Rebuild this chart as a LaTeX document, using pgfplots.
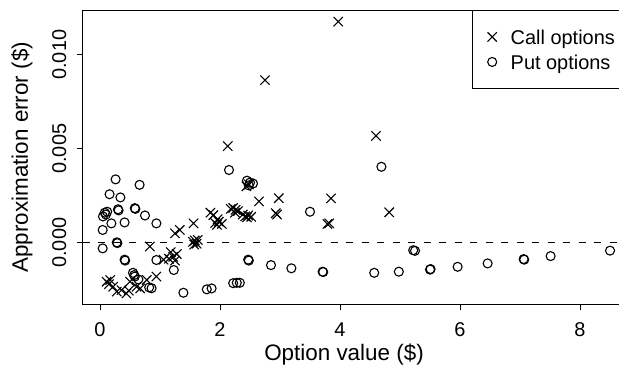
\documentclass[border=0pt]{standalone}
\usepackage{pgfplots}
\pgfplotsset{compat=1.18}
\usepackage{fontspec}
\setmainfont{Liberation Sans}
\begin{document}
\begin{tikzpicture}
\useasboundingbox (-82.7bp,-62.6bp) rectangle (536.3bp,304.4bp);
\begin{axis}[
  at={(0,0)}, anchor=south west,
  scale only axis, width=547.6bp, height=294.4bp,
  xmin=-0.288, xmax=8.838, ymin=-0.00328, ymax=0.01238,
  scaled ticks=false,
  axis line style={line width=0.9bp},
  tick style={line width=0.9bp, black},
  tick align=outside, major tick length=6bp,
  xtick pos=bottom, ytick pos=left,
  xtick={0,2,4,6,8}, xticklabels={0,2,4,6,8},
  ytick={0,0.005,0.01}, yticklabels={0.000,0.005,0.010},
  minor tick num=0,
  ticklabel style={font=\fontsize{20}{24}\selectfont},
  xticklabel style={anchor=center, yshift=-19bp, text depth=0pt},
  yticklabel style={anchor=center, xshift=-17.5bp, rotate=90, text depth=0pt},
  xlabel={Option value (\$)},
  ylabel={Approximation error (\$)},
  xlabel style={at={(axis description cs:0.4772,-0.1719)}, anchor=center, font=\fontsize{22.5}{27}\selectfont},
  ylabel style={at={(axis description cs:-0.1108,0.5)}, anchor=center, font=\fontsize{22.5}{27}\selectfont},
  legend style={at={(1,1)}, anchor=north east, draw=black, line width=0.9bp, fill=white,
    font=\fontsize{20}{24}\selectfont, inner xsep=15bp, inner ysep=14bp, row sep=0pt,
    nodes={inner xsep=0pt, inner ysep=3bp, text height=16.7bp, text depth=2.3bp}},
  legend cell align=left,
  legend image code/.code={\path (-4bp,0bp) (18bp,0bp); \draw[#1] plot coordinates {(0bp,0bp)};},
]
\addplot[black, line width=0.9bp, dash pattern=on 7bp off 8.5bp, forget plot] coordinates {(-0.288,0) (8.838,0)};
\addplot[only marks, mark=x, mark size=6.6bp, black, line width=1.1bp] coordinates {
(3.97,0.01176) (2.75,0.00865) (2.13,0.00514) (4.60,0.00568) (4.82,0.00162)
(3.85,0.00236) (3.82,0.00103) (3.79,0.00100)
(2.98,0.00237) (2.93,0.00157) (2.95,0.00150) (2.65,0.00220)
(2.38,0.00150) (2.42,0.00140) (2.45,0.00135) (2.47,0.00145) (2.52,0.00138)
(2.18,0.00180) (2.22,0.00185) (2.26,0.00175) (2.30,0.00168) (2.25,0.00160)
(2.44,0.00300) (2.48,0.00310)
(1.89,0.00147) (1.84,0.00160)
(1.92,0.00105) (1.95,0.00095) (1.98,0.00112) (2.03,0.00100) (1.96,0.00125)
(1.56,0.00103)
(1.55,0.00005) (1.58,0.00012) (1.61,-0.00005) (1.63,0.00015) (1.57,-0.00010)
(1.33,0.00068) (1.25,0.00050)
(0.83,-0.00020)
(1.18,-0.00050) (1.22,-0.00075) (1.25,-0.00095) (1.28,-0.00060) (1.15,-0.00085) (1.06,-0.00090)
(0.94,-0.00180) (0.78,-0.00198) (0.61,-0.00234) (0.67,-0.00243)
(0.11,-0.00207) (0.17,-0.00198) (0.22,-0.00234) (0.15,-0.00220)
(0.28,-0.00260) (0.36,-0.00252) (0.44,-0.00270) (0.50,-0.00207) (0.48,-0.00255)
};
\addlegendentry{Call options}
\addplot[only marks, mark=o, mark size=4.5bp, black, line width=1.1bp] coordinates {
(0.26,0.00337) (0.66,0.00308) (0.16,0.00258) (0.34,0.00241)
(0.05,0.00140) (0.08,0.00160) (0.12,0.00165) (0.10,0.00150)
(0.30,0.00178) (0.31,0.00172) (0.58,0.00184) (0.59,0.00180)
(0.75,0.00145) (0.41,0.00108) (0.19,0.00103) (0.045,0.00068) (0.94,0.00103)
(0.28,0.00002) (0.29,-0.00002) (0.045,-0.00030)
(0.41,-0.00090) (0.42,-0.00095) (0.94,-0.00092)
(0.55,-0.00160) (0.57,-0.00172) (0.58,-0.00180) (0.64,-0.00195)
(0.82,-0.00238) (0.86,-0.00242)
(1.23,-0.00145) (1.39,-0.00266) (1.78,-0.00248) (1.86,-0.00243)
(2.22,-0.00215) (2.28,-0.00213) (2.33,-0.00213)
(2.47,-0.00090) (2.48,-0.00095)
(2.85,-0.00119) (3.19,-0.00136) (3.50,0.00165)
(2.15,0.00387) (4.69,0.00404)
(2.45,0.00330) (2.50,0.00320) (2.55,0.00315) (2.48,0.00305)
(3.71,-0.00154) (3.72,-0.00156) (4.57,-0.00160) (4.98,-0.00154)
(5.22,-0.00040) (5.25,-0.00043) (5.50,-0.00143) (5.51,-0.00140)
(5.96,-0.00128) (6.46,-0.00110) (7.06,-0.00087) (7.07,-0.00090)
(7.51,-0.00071) (8.50,-0.00042)
};
\addlegendentry{Put options}
\end{axis}
\end{tikzpicture}
\end{document}
